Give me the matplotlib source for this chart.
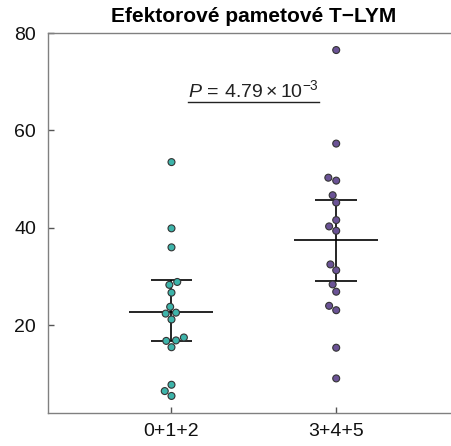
import matplotlib
matplotlib.use("Agg")
import matplotlib.pyplot as plt
import seaborn as sns
import pandas as pd
from matplotlib.lines import Line2D

plt.rcParams['font.family'] = ['Liberation Sans', 'DejaVu Sans']
plt.rcParams['mathtext.fontset'] = 'custom'
plt.rcParams['mathtext.rm'] = 'Liberation Sans'
plt.rcParams['mathtext.it'] = 'Liberation Sans:italic'
plt.rcParams['mathtext.bf'] = 'Liberation Sans:bold'

# ---- data ----
categories = ["0+1+2", "3+4+5"]
group_012 = [53.5, 39.9, 36.0, 28.9, 28.3, 26.7, 23.8, 22.6, 22.4, 21.2,
             17.5, 16.9, 16.8, 15.5, 7.8, 6.5, 5.5]
group_345 = [76.5, 57.3, 50.3, 49.7, 46.7, 45.2, 41.6, 40.3, 39.4, 32.5,
             31.3, 28.4, 26.9, 24.0, 23.1, 15.4, 9.1]
means = [22.8, 37.5]
ci_low = [16.7, 29.1]
ci_high = [29.3, 45.8]
yticks = [20, 40, 60, 80]
title = "Efektorové pametové T\u2212LYM"
p_label = r"$\mathit{P}\,=\,4.79\times10^{-3}$"

colors = ["#3db4aa", "#6b5396"]

df = pd.DataFrame({
    "group": [categories[0]] * len(group_012) + [categories[1]] * len(group_345),
    "value": group_012 + group_345,
})

fig = plt.figure(figsize=(4.52, 4.46), dpi=100)
ax = fig.add_axes([47.7 / 452, 33 / 446, (460 - 47.7) / 452, (413 - 33) / 446])

sns.swarmplot(data=df, x="group", y="value", hue="group", order=categories,
              palette=colors, size=5.0, linewidth=0.8, edgecolor="#333333",
              legend=False, ax=ax, zorder=3)

for i in range(len(categories)):
    ax.hlines(means[i], i - 0.255, i + 0.255, color="black", lw=1.2, zorder=2)
    ax.vlines(i, ci_low[i], ci_high[i], color="black", lw=1.2, zorder=2)
    ax.hlines([ci_low[i], ci_high[i]], i - 0.127, i + 0.127, color="black", lw=1.2, zorder=2)

ax.set_xlim(-0.7515, 1.7515)
ax.set_ylim(2, 80)
ax.set_yticks(yticks)
ax.set_xticks(range(len(categories)))
ax.set_xticklabels(categories)
ax.set_xlabel("")
ax.set_ylabel("")

for s in ["left", "bottom", "top"]:
    ax.spines[s].set_color("#808080")
    ax.spines[s].set_linewidth(1.0)
ax.spines["right"].set_visible(False)
ax.tick_params(direction="in", length=4, width=1, color="#555555",
               labelsize=14)
ax.tick_params(axis="y", pad=8.5)
ax.tick_params(axis="x", pad=7)
for lbl in ax.get_xticklabels() + ax.get_yticklabels():
    lbl.set_color("#111111")

fig.text(254 / 452, 1 - 16 / 446, title, ha="center", va="center",
         fontsize=15, fontweight="bold")

pt = ax.text(0.5, 66.8, p_label, ha="center", va="baseline", fontsize=14,
             color="#222222")

fig.canvas.draw()
bb = pt.get_window_extent()
y_line = bb.y0 - 0.5
fig.add_artist(Line2D([bb.x0 / 452, bb.x1 / 452], [y_line / 446, y_line / 446],
                      transform=fig.transFigure, color="#222222", lw=1.0))

fig.savefig("out.png", dpi=100)
